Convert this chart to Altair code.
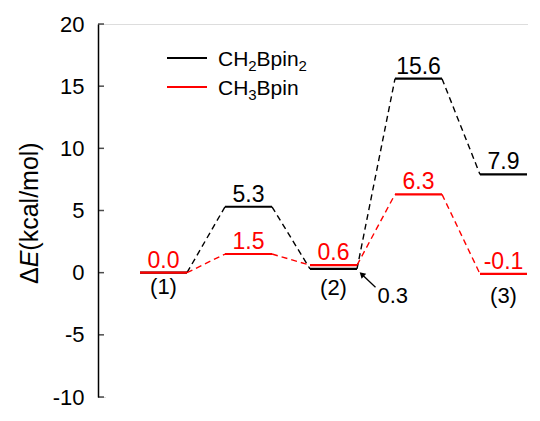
import altair as alt
import pandas as pd

# ---- data ----
states = ["(1)", "TS1", "(2)", "TS2", "(3)"]
state_labels = ["(1)", "", "(2)", "", "(3)"]
e_black = [0.0, 5.3, 0.3, 15.6, 7.9]
e_red = [0.0, 1.5, 0.6, 6.3, -0.1]
series_names = ["CH2Bpin2", "CH3Bpin"]
series_colors = ["#000000", "#ff0000"]
black_labelled = [1, 3, 4]
red_labelled = [0, 1, 2, 3, 4]
arrow_state = 2          # black level pointed at by the arrow (value 0.3)
y_ticks = [-10, -5, 0, 5, 10, 15, 20]

FONT = "Liberation Sans"
W, H = 430, 373
PXU = 85.0                      # pixels per state step
XMIN = -65.5 / PXU
XMAX = XMIN + W / PXU
HALF = 23.5 / PXU               # half width of an energy level

# ---- tables ----
lev_rows, conn_rows, lab_rows = [], [], []
for name, col, vals, labelled in [
    (series_names[0], series_colors[0], e_black, black_labelled),
    (series_names[1], series_colors[1], e_red, red_labelled),
]:
    for i, v in enumerate(vals):
        lev_rows.append({"s": name, "c": col, "x": i - HALF, "x2": i + HALF, "E": v, "i": i})
        if i in labelled:
            lab_rows.append({"s": name, "c": col, "x": i, "E": v, "t": f"{v:.1f}"})
        if i + 1 < len(vals):
            conn_rows.append({"s": name, "c": col, "x": i + HALF, "E": v,
                              "x2": i + 1 - HALF, "E2": vals[i + 1]})
levels = pd.DataFrame(lev_rows)
conns = pd.DataFrame(conn_rows)
labels = pd.DataFrame(lab_rows)

yscale = alt.Scale(domain=[-10, 20], nice=False, zero=False)
xscale = alt.Scale(domain=[XMIN, XMAX], nice=False, zero=False)
yaxis = alt.Axis(values=y_ticks, ticks=False, grid=False, title=None, domain=True,
                 domainColor="black", domainWidth=1.5, labelFont=FONT,
                 labelFontSize=22, labelColor="black", labelPadding=14,
                 labelExpr="'' + datum.value")


def Y(f):
    return alt.Y(f, type="quantitative", scale=yscale, axis=yaxis)


def X(f):
    return alt.X(f, type="quantitative", scale=xscale, axis=None)


color = alt.Color("c:N", scale=None)

conn_layer = alt.Chart(conns).mark_rule(strokeWidth=1.4, strokeDash=[6, 4]).encode(
    x=X("x"), x2="x2", y=Y("E"), y2="E2", color=color)

black_lev = alt.Chart(levels[levels.s == series_names[0]]).mark_rule(strokeWidth=2.2).encode(
    x=X("x"), x2="x2", y=Y("E"), color=color)
red_lev = alt.Chart(levels[levels.s == series_names[1]]).mark_rule(strokeWidth=2.2).encode(
    x=X("x"), x2="x2", y=Y("E"), color=color)

val_text = alt.Chart(labels).mark_text(font=FONT, fontSize=23, baseline="alphabetic",
                                       align="center", dy=-5).encode(
    x=X("x"), y=Y("E"), text="t:N", color=color)

# state labels below levels
state_layers = []
for i, (lab, dy) in enumerate(zip(state_labels, [4, 0, 9, 0, 12])):
    if not lab:
        continue
    df = pd.DataFrame({"x": [i], "E": [min(e_black[i], e_red[i])], "t": [lab]})
    state_layers.append(alt.Chart(df).mark_text(font=FONT, fontSize=22, baseline="top",
                                                 align="center", dy=dy, color="black").encode(
        x=X("x"), y=Y("E"), text="t:N"))

# hide a stray light line along the bottom edge of the plot
cover = alt.Chart(pd.DataFrame({"v": [y_ticks[0]]})).mark_rule(
    color="white", strokeWidth=4).encode(y=Y("v"), x=alt.value(8), x2=alt.value(W))

# inward y ticks (short marks pointing into the plot)
tick_layer = alt.Chart(pd.DataFrame({"v": y_ticks})).mark_tick(
    color="black", thickness=1.5, size=6, orient="horizontal").encode(
    y=Y("v"), x=alt.value(3))

# arrow to the 0.3 level
a_i = arrow_state
tip_dx, tail_dx, txt_dx = 29 / PXU, 42 / PXU, 44 / PXU
arrow_df = pd.DataFrame({"x": [a_i + tail_dx], "E": [e_black[a_i] - 1.47],
                         "x2": [a_i + tip_dx], "E2": [e_black[a_i] - 0.48]})
arrow_line = alt.Chart(arrow_df).mark_rule(color="black", strokeWidth=1.3).encode(
    x=X("x"), x2="x2", y=Y("E"), y2="E2")
head_df = pd.DataFrame({"x": [a_i + tip_dx], "E": [e_black[a_i] - 0.48]})
arrow_head = alt.Chart(head_df).mark_point(shape="triangle", filled=True, size=45,
                                           angle=313, color="black", opacity=1).encode(
    x=X("x"), y=Y("E"))
arrow_txt = alt.Chart(pd.DataFrame({"x": [a_i + txt_dx], "E": [e_black[a_i] - 2.2],
                                    "t": [f"{e_black[a_i]:.1f}"]})).mark_text(
    font=FONT, fontSize=22, align="left", baseline="middle", color="black").encode(
    x=X("x"), y=Y("E"), text="t:N")

# y title: ΔE(kcal/mol) with italic E, rotated
tsz = 25
title_layers = []
ybase = 260
for txt, style, w in [("Δ", "normal", 0.667), ("E", "italic", 0.667), ("(kcal/mol)", "normal", 4.333)]:
    title_layers.append(alt.Chart(pd.DataFrame({"t": [txt]})).mark_text(
        font=FONT, fontSize=tsz, fontStyle=style, angle=270, align="left",
        baseline="alphabetic", color="black").encode(
        text="t:N", x=alt.value(-60), y=alt.value(ybase)))
    ybase -= w * tsz

# legend
leg_layers = []
widths = {"CH": 30.3, "2": 8.3, "3": 8.3, "Bpin": 42.0}
for k, (name, col) in enumerate(zip(series_names, series_colors)):
    yl = 34 + 29 * k
    leg_layers.append(alt.Chart(pd.DataFrame({"s": [name]})).mark_rule(
        color=col, strokeWidth=2).encode(x=alt.value(69), x2=alt.value(109), y=alt.value(yl)))
    pieces = [("CH", 21, 0), ("2" if k == 0 else "3", 15, 5), ("Bpin", 21, 0)]
    if k == 0:
        pieces.append(("2", 15, 5))
    xp = 120
    for txt, fs, off in pieces:
        leg_layers.append(alt.Chart(pd.DataFrame({"t": [txt]})).mark_text(
            font=FONT, fontSize=fs, align="left", baseline="alphabetic", color="black").encode(
            text="t:N", x=alt.value(xp), y=alt.value(yl + 8 + off)))
        xp += widths[txt]

chart = alt.layer(
    conn_layer, black_lev, red_lev, val_text, *state_layers,
    arrow_line, arrow_head, arrow_txt, *title_layers, *leg_layers, cover, tick_layer
).properties(
    width=W, height=H,
    autosize=alt.AutoSizeParams(type="none"),
    padding={"left": 90, "top": 16, "right": 0, "bottom": 12},
).configure_view(strokeWidth=0, stroke="transparent").configure_axis(
    grid=False
).configure_axisX(
    domain=False, ticks=False, labels=False, grid=False
).configure(background="white")

chart.save("out.html", embed_options={"renderer": "svg", "actions": False})
